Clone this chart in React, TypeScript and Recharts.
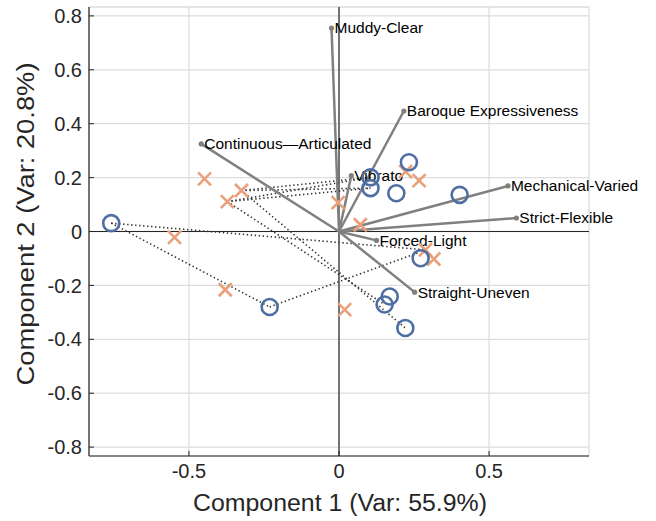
import React from 'react';
import {
  ScatterChart,
  Scatter,
  XAxis,
  YAxis,
  CartesianGrid,
  ReferenceLine,
  Label,
} from 'recharts';

// axis setup
const axisLimit = 0.833;
const xTicks = [-0.5, 0, 0.5];
const yTicks = [-0.8, -0.6, -0.4, -0.2, 0, 0.2, 0.4, 0.6, 0.8];

// loadings (vectors from origin)
const loadingNames = [
  'Muddy-Clear',
  'Baroque Expressiveness',
  'Continuous\u2014Articulated',
  'Vibrato',
  'Mechanical-Varied',
  'Strict-Flexible',
  'Forced-Light',
  'Straight-Uneven',
];
const loadingX = [-0.025, 0.216, -0.459, 0.041, 0.563, 0.591, 0.125, 0.252];
const loadingY = [0.755, 0.447, 0.325, 0.207, 0.169, 0.05, -0.033, -0.225];

// scores, group 1 (circles)
const circleX = [-0.759, -0.231, 0.105, 0.105, 0.233, 0.191, 0.402, 0.272, 0.169, 0.152, 0.221];
const circleY = [0.031, -0.28, 0.201, 0.161, 0.257, 0.142, 0.136, -0.099, -0.241, -0.271, -0.358];

// scores, group 2 (crosses)
const crossX = [-0.448, -0.325, -0.372, -0.003, -0.548, -0.379, 0.071, 0.222, 0.267, 0.288, 0.316, 0.019];
const crossY = [0.195, 0.152, 0.111, 0.107, -0.022, -0.216, 0.025, 0.222, 0.189, -0.068, -0.102, -0.29];

// dotted links between points
const linkFromX = [-0.759, -0.759, -0.231, -0.325, -0.325, -0.372, -0.372, -0.372, -0.325];
const linkFromY = [0.031, 0.031, -0.28, 0.152, 0.152, 0.111, 0.111, 0.111, 0.152];
const linkToX = [0.288, -0.231, 0.265, 0.105, 0.105, 0.105, 0.105, 0.152, 0.221];
const linkToY = [-0.068, -0.28, -0.078, 0.201, 0.161, 0.201, 0.161, -0.271, -0.358];

const circles = circleX.map((x, i) => ({ x, y: circleY[i] }));
const crosses = crossX.map((x, i) => ({ x, y: crossY[i] }));

const FONT = '"Liberation Sans", Arial, Helvetica, sans-serif';
const TEXT = '#262626';
const BLUE = '#4f6fa3';
const ORANGE = '#e9a07b';
const GRAY = '#808080';

const fmt = (v: number) => (v === 0 ? '0' : String(v));

const CircleShape = (props: any) => (
  <circle cx={props.cx} cy={props.cy} r={8} fill="none" stroke={BLUE} strokeWidth={2.6} />
);

const CrossShape = (props: any) => {
  const { cx, cy } = props;
  const s = 6.5;
  return (
    <g stroke={ORANGE} strokeWidth={2.6}>
      <line x1={cx - s} y1={cy - s} x2={cx + s} y2={cy + s} />
      <line x1={cx - s} y1={cy + s} x2={cx + s} y2={cy - s} />
    </g>
  );
};

const VectorEnd = (props: any) => {
  const { cx, cy, payload } = props;
  if (!payload || !payload.label) return <g />;
  return (
    <g>
      <circle cx={cx} cy={cy} r={2.6} fill={GRAY} />
      <text
        x={cx + 3}
        y={cy}
        dy="0.35em"
        fontSize={15.5}
        fontFamily={FONT}
        fill="#000"
      >
        {payload.label}
      </text>
    </g>
  );
};

const NoDot = () => <g />;

export default function App() {
  return (
    <div style={{ position: 'absolute', left: 0, top: 0, background: '#fff' }}>
      <ScatterChart
        width={656}
        height={521}
        margin={{ top: 7, right: 67, bottom: 0, left: 0 }}
      >
        <CartesianGrid stroke="#dddddd" strokeWidth={1.3} />
        <XAxis
          type="number"
          dataKey="x"
          domain={[-axisLimit, axisLimit]}
          ticks={xTicks}
          height={65}
          tickSize={-5}
          tickMargin={13}
          tickFormatter={fmt}
          tickLine={{ stroke: TEXT }}
          axisLine={{ stroke: TEXT, strokeWidth: 1.2 }}
          tick={{ fill: TEXT, fontSize: 20, fontFamily: FONT }}
        >
          <Label
            content={() => (
              <text
                x={340}
                y={511}
                textAnchor="middle"
                fontSize={23}
                fontFamily={FONT}
                fill={TEXT}
                textLength={294}
                lengthAdjust="spacingAndGlyphs"
              >
                Component 1 (Var: 55.9%)
              </text>
            )}
          />
        </XAxis>
        <YAxis
          type="number"
          dataKey="y"
          domain={[-axisLimit, axisLimit]}
          ticks={yTicks}
          width={89}
          tickSize={-5}
          tickMargin={12}
          tickFormatter={fmt}
          tickLine={{ stroke: TEXT }}
          axisLine={{ stroke: TEXT, strokeWidth: 1.2 }}
          tick={{ fill: TEXT, fontSize: 20, fontFamily: FONT }}
        >
          <Label
            content={() => (
              <text
                x={34}
                y={224}
                transform="rotate(-90 34 224)"
                textAnchor="middle"
                fontSize={23}
                fontFamily={FONT}
                fill={TEXT}
                textLength={323}
                lengthAdjust="spacingAndGlyphs"
              >
                Component 2 (Var: 20.8%)
              </text>
            )}
          />
        </YAxis>
        <XAxis
          xAxisId="top"
          orientation="top"
          type="number"
          dataKey="x"
          domain={[-axisLimit, axisLimit]}
          ticks={xTicks}
          mirror
          height={0}
          tick={false}
          tickSize={5}
          tickLine={{ stroke: TEXT }}
          axisLine={{ stroke: TEXT, strokeWidth: 1.2 }}
        />
        <YAxis
          yAxisId="right"
          orientation="right"
          type="number"
          dataKey="y"
          domain={[-axisLimit, axisLimit]}
          ticks={yTicks}
          mirror
          width={0}
          tick={false}
          tickSize={5}
          tickLine={{ stroke: TEXT }}
          axisLine={{ stroke: TEXT, strokeWidth: 1.2 }}
        />
        <ReferenceLine x={0} stroke={TEXT} strokeWidth={1.2} />
        <ReferenceLine y={0} stroke={TEXT} strokeWidth={1.2} />

        {linkFromX.map((fx, i) => (
          <Scatter
            key={'link' + i}
            data={[
              { x: fx, y: linkFromY[i] },
              { x: linkToX[i], y: linkToY[i] },
            ]}
            line={{ stroke: '#333333', strokeWidth: 1.6, strokeDasharray: '1.4 2.6' }}
            shape={NoDot}
            isAnimationActive={false}
          />
        ))}

        {loadingX.map((lx, i) => (
          <Scatter
            key={'vec' + i}
            data={[
              { x: 0, y: 0 },
              { x: lx, y: loadingY[i], label: loadingNames[i] },
            ]}
            line={{ stroke: GRAY, strokeWidth: 2.5 }}
            shape={VectorEnd}
            isAnimationActive={false}
          />
        ))}

        <Scatter data={crosses} shape={CrossShape} isAnimationActive={false} />
        <Scatter data={circles} shape={CircleShape} isAnimationActive={false} />
      </ScatterChart>
    </div>
  );
}
